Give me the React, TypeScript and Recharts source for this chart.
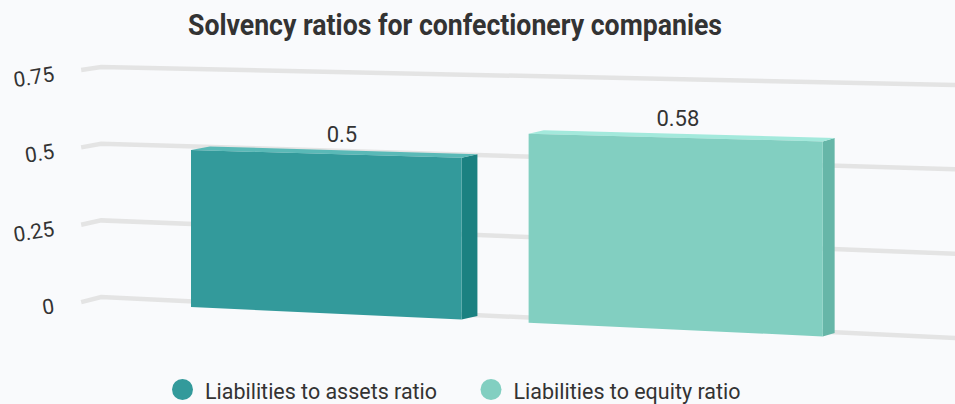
import React from 'react';
import { BarChart, Bar, XAxis, YAxis, CartesianGrid, LabelList } from 'recharts';

// ---------- data ----------
const categories = ['Confectionery companies'];
const seriesNames = ['Liabilities to assets ratio', 'Liabilities to equity ratio'];
const assetsRatio = [0.5];
const equityRatio = [0.58];
const yTicks = [0, 0.25, 0.5, 0.75];
const chartTitle = 'Solvency ratios for confectionery companies';

const data = categories.map((c, i) => ({ name: c, assets: assetsRatio[i], equity: equityRatio[i] }));

// ---------- style / layout ----------
const W = 955;
const H = 404;
const PT = 67;
const PB = 297;
const PL = 100;
const PR = 900;
const FONT = 'Roboto, "Noto Sans", sans-serif';
const TEXT = '#333333';
const BG = '#f9fafc';
const GRID = '#e4e4e4';

const PALETTE = [
  { front: '#339a9b', side: '#1b8181', top: '#5ab9b7' },
  { front: '#82cfc1', side: '#66b6a8', top: '#a3e9dc' },
];
const LEGEND_TEXT_LEN = [232, 227];
const LEGEND_X = [182.5, 491];

// ---------- perspective projection helpers ----------
const G = 0.00014;
const X0 = 191;
const S = (x: number) => x + G * (x - X0) * (x - X0);
const frac = (yf: number) => (PB - yf) / (PB - PT);
const backY = (xs: number, f: number) => {
  const t = (xs - 100) / 855;
  return 297 + 41 * t - (230 + 23 * t) * f;
};
const frontY = (xs: number, f: number) => {
  const base = 307 + 0.0465 * (xs - 191);
  const span = 235.5 + 0.02625 * (xs - 191);
  return base - span * f;
};
const depthX = (xs: number) => 0.011 * (1905 - xs);
const DEPTH_Y = -3.5;
const labelX = (xf: number) => 7.6 + 1.04 * xf;

const pts = (arr: number[][]) => arr.map((p) => `${p[0].toFixed(2)},${p[1].toFixed(2)}`).join(' ');

const GridLine = (props: any) => {
  const { x1, x2, y1, index } = props;
  const f = frac(y1);
  const xa = S(x1);
  const xb = S(x2);
  const ya = backY(xa, f);
  const yb = backY(xb, f);
  const kd = 3 + 2 * (1 - f);
  return (
    <polyline
      key={`g-${index}`}
      points={pts([[xa - 20, ya + kd], [xa, ya], [xb, yb]])}
      fill="none"
      stroke={GRID}
      strokeWidth={4.5}
    />
  );
};

const TickLabel = (props: any) => {
  const { y, payload } = props;
  const f = frac(y);
  const yk = backY(S(PL), f) + 3 + 2 * (1 - f) + 4;
  const xr = 54;
  return (
    <text
      x={xr}
      y={yk}
      textAnchor="end"
      dominantBaseline="central"
      fontFamily={FONT}
      fontSize={21}
      fill={TEXT}
      transform={`rotate(-9 ${xr} ${yk})`}
    >
      {String(payload.value)}
    </text>
  );
};

const makeShape = (si: number) => (props: any) => {
  const { x, y, width, height } = props;
  const pal = PALETTE[si];
  const fTop = frac(y);
  const fBot = frac(y + height);
  const xl = S(x);
  const xr = S(x + width);
  const tl = [xl, frontY(xl, fTop)];
  const tr = [xr, frontY(xr, fTop)];
  const bl = [xl, frontY(xl, fBot)];
  const br = [xr, frontY(xr, fBot)];
  const back = (p: number[]) => [p[0] + depthX(p[0]), p[1] + DEPTH_Y];
  return (
    <g>
      <polygon points={pts([tr, back(tr), back(br), br])} fill={pal.side} />
      <polygon points={pts([tl, tr, back(tr), back(tl)])} fill={pal.top} />
      <polygon points={pts([tl, tr, br, bl])} fill={pal.front} />
    </g>
  );
};

const makeLabel = () => (props: any) => {
  const { x, y, width, value } = props;
  const xf = x + width / 2;
  const xc = S(xf);
  const yt = frontY(xc, frac(y));
  return (
    <text
      x={labelX(xf)}
      y={yt - 12}
      textAnchor="middle"
      fontFamily={FONT}
      fontSize={22}
      fill={TEXT}
    >
      {String(value)}
    </text>
  );
};

export default function App() {
  return (
    <div style={{ position: 'absolute', left: 0, top: 0, width: W, height: H, background: BG, overflow: 'hidden' }}>
      <BarChart
        width={W}
        height={H}
        data={data}
        margin={{ top: PT, bottom: H - PB, left: PL - 60, right: W - PR }}
        barGap={62}
        barSize={261}
      >
        <CartesianGrid vertical={false} horizontal={GridLine} />
        <XAxis dataKey="name" hide padding={{ left: 0, right: 34 }} />
        <YAxis
          width={60}
          domain={[0, 0.75]}
          ticks={yTicks}
          axisLine={false}
          tickLine={false}
          tick={TickLabel}
        />
        <Bar dataKey="assets" name={seriesNames[0]} fill={PALETTE[0].front} isAnimationActive={false} shape={makeShape(0)}>
          <LabelList dataKey="assets" content={makeLabel()} />
        </Bar>
        <Bar dataKey="equity" name={seriesNames[1]} fill={PALETTE[1].front} isAnimationActive={false} shape={makeShape(1)}>
          <LabelList dataKey="equity" content={makeLabel()} />
        </Bar>
      </BarChart>
      <svg width={W} height={H} style={{ position: 'absolute', left: 0, top: 0, pointerEvents: 'none' }}>
        <text
          x={455}
          y={35}
          textAnchor="middle"
          fontFamily={FONT}
          fontWeight={700}
          fontSize={29}
          fill={TEXT}
          textLength={534}
          lengthAdjust="spacingAndGlyphs"
        >
          {chartTitle}
        </text>
        {seriesNames.map((n, i) => (
          <g key={n}>
            <circle cx={LEGEND_X[i]} cy={389.5} r={10.5} fill={PALETTE[i].front} />
            <text
              x={LEGEND_X[i] + 22.5}
              y={398.5}
              fontFamily={FONT}
              fontSize={22}
              fill={TEXT}
              textLength={LEGEND_TEXT_LEN[i]}
              lengthAdjust="spacingAndGlyphs"
            >
              {n}
            </text>
          </g>
        ))}
      </svg>
    </div>
  );
}
